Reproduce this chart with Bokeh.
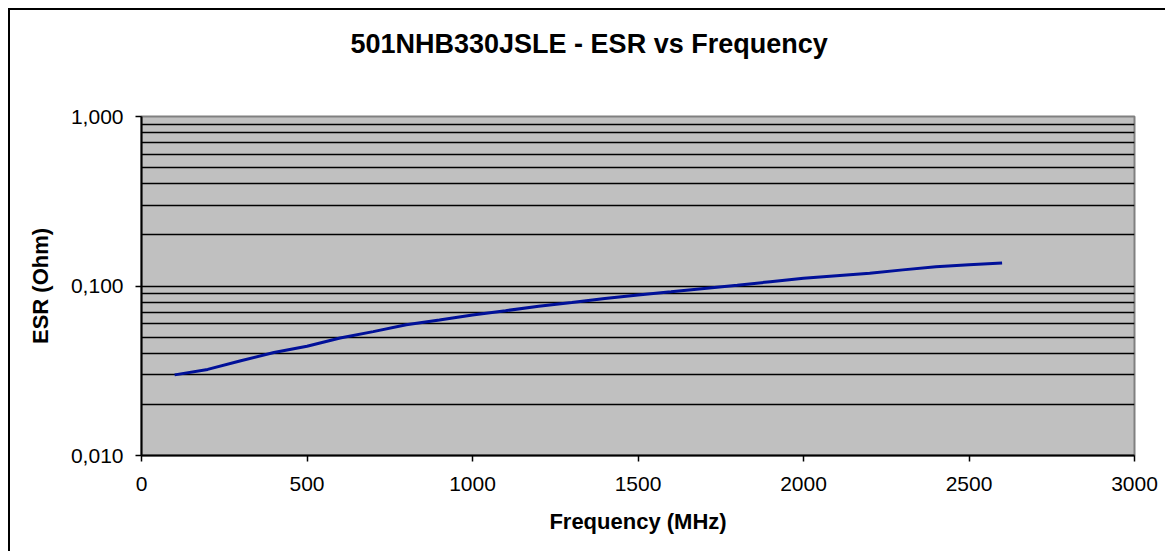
from bokeh.plotting import figure
from bokeh.models import FixedTicker, CustomJSTickFormatter, Range1d, Title
from bokeh.embed import file_html
from bokeh.resources import INLINE

# ---- data ----
freq_mhz = [100, 200, 300, 400, 500, 600, 700, 800, 900, 1000, 1100, 1200, 1300,
            1400, 1500, 1600, 1700, 1800, 1900, 2000, 2100, 2200, 2300, 2400, 2500, 2600]
esr_ohm = [0.0299, 0.0322, 0.0362, 0.0405, 0.0441, 0.0493, 0.0538, 0.0590, 0.0630,
           0.0675, 0.0715, 0.0760, 0.0800, 0.0843, 0.0885, 0.0925, 0.0967, 0.1010,
           0.1060, 0.1110, 0.1150, 0.1190, 0.1245, 0.1300, 0.1335, 0.1365]
x_ticks = [0, 500, 1000, 1500, 2000, 2500, 3000]
y_ticks = [0.01, 0.1, 1.0]
y_minor = [0.02, 0.03, 0.04, 0.05, 0.06, 0.07, 0.08, 0.09,
           0.2, 0.3, 0.4, 0.5, 0.6, 0.7, 0.8, 0.9]
title_text = "501NHB330JSLE - ESR vs Frequency"
x_label = "Frequency (MHz)"
y_label = "ESR (Ohm)"

FONT = "Liberation Sans"

p = figure(width=1157, height=543, y_axis_type="log",
           x_range=Range1d(0, 3000), y_range=Range1d(0.01, 1.0),
           output_backend="svg", toolbar_location=None,
           min_border_left=131, min_border_right=33,
           min_border_top=106, min_border_bottom=98)
p.styles = {"border-left": "2px solid black", "border-top": "2px solid black",
            "margin-left": "8px", "margin-top": "8px"}

p.background_fill_color = "#C0C0C0"
p.border_fill_color = "white"
p.outline_line_color = "#808080"
p.outline_line_width = 2

# spacer panel between frame and title (closest to the frame)
spacer = Title(text=" ", text_font_size="10px", standoff=29)
p.add_layout(spacer, "above")
title = Title(text=title_text, align="left", vertical_align="bottom", text_font=FONT,
              text_font_size="27px", text_font_style="bold", text_color="black",
              standoff=32, offset=209)
p.add_layout(title, "above")

p.line(freq_mhz, esr_ohm, line_color="#001099", line_width=3)

# axes
p.xaxis.ticker = FixedTicker(ticks=x_ticks)
p.yaxis.ticker = FixedTicker(ticks=y_ticks, minor_ticks=y_minor)
p.yaxis.formatter = CustomJSTickFormatter(code="return tick.toFixed(3).replace('.', ',');")

for ax in (p.xaxis[0], p.yaxis[0]):
    ax.axis_line_color = "black"
    ax.axis_line_width = 2
    ax.major_tick_line_color = "black"
    ax.major_tick_line_width = 1.5
    ax.major_tick_out = 6
    ax.major_tick_in = 0
    ax.minor_tick_line_color = None
    ax.major_label_text_font = FONT
    ax.major_label_text_font_size = "21px"
    ax.major_label_text_color = "black"
    ax.major_label_standoff = 12
    ax.axis_label_text_font = FONT
    ax.axis_label_text_font_size = "22px"
    ax.axis_label_text_font_style = "bold"
    ax.axis_label_text_color = "black"
    ax.axis_label_standoff = 15

p.xaxis.major_label_standoff = 15
p.xaxis.axis_label = x_label
p.yaxis.axis_label = y_label

p.xgrid.grid_line_color = None
p.ygrid.grid_line_color = "black"
p.ygrid.grid_line_width = 1.5
p.ygrid.minor_grid_line_color = "black"
p.ygrid.minor_grid_line_width = 1.5

open("out.html", "w").write(file_html(p, INLINE))
